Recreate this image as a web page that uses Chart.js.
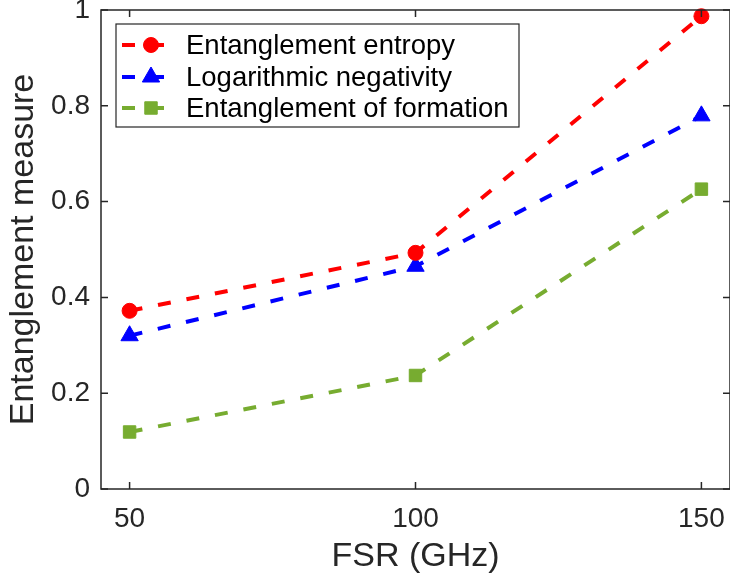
<!DOCTYPE html>
<html>
<head>
<meta charset="utf-8">
<script src="https://cdn.jsdelivr.net/npm/chart.js@4.4.0/dist/chart.umd.min.js"></script>
<style>
  html, body { margin: 0; padding: 0; background: #fff; overflow: hidden; }
  #wrap { width: 730px; height: 580px; position: relative; }
</style>
</head>
<body>
<div id="wrap"><canvas id="myChart"></canvas></div>
<script>
const ctx = document.getElementById('myChart').getContext('2d');

// values
const fsr = [50, 100, 150];
const entropy = [0.372, 0.493, 0.987];
const logNeg = [0.320, 0.465, 0.779];
const formation = [0.119, 0.237, 0.626];
const xTicks = [50, 100, 150];
const yTicks = [0, 0.2, 0.4, 0.6, 0.8, 1];
const seriesNames = ['Entanglement entropy', 'Logarithmic negativity', 'Entanglement of formation'];

const FONT = '"Liberation Sans", Arial, Helvetica, sans-serif';
const AXIS = '#262626';
const DASH = [13, 16];

function series(label, values, color, style, radius) {
  return {
    label: label,
    data: fsr.map((x, i) => ({ x: x, y: values[i] })),
    borderColor: color,
    backgroundColor: color,
    borderWidth: 4,
    borderDash: DASH,
    pointStyle: style,
    pointRadius: radius,
    pointHoverRadius: radius,
    pointBackgroundColor: color,
    pointBorderColor: color,
    pointBorderWidth: 1,
    tension: 0,
    clip: false,
  };
}

// inward ticks on all four sides plus the box (right side falls just off the page)
const framePlugin = {
  id: 'frame',
  afterDatasetsDraw(chart) {
    const c = chart.ctx;
    const a = chart.chartArea;
    const xs = chart.scales.x, ys = chart.scales.y;
    c.save();
    c.strokeStyle = AXIS;
    c.lineWidth = 1.5;
    c.strokeRect(a.left, a.top, a.right - a.left, a.bottom - a.top);
    c.beginPath();
    xTicks.forEach(v => {
      const px = xs.getPixelForValue(v);
      c.moveTo(px, a.bottom); c.lineTo(px, a.bottom - 7);
      c.moveTo(px, a.top); c.lineTo(px, a.top + 7);
    });
    yTicks.forEach(v => {
      const py = ys.getPixelForValue(v);
      c.moveTo(a.left, py); c.lineTo(a.left + 7, py);
      c.moveTo(a.right, py); c.lineTo(a.right - 7, py);
    });
    c.stroke();
    c.restore();
  },
  afterDraw(chart) {
    // matlab style legend in the upper left corner
    const c = chart.ctx;
    c.save();
    c.fillStyle = '#fff';
    c.fillRect(116, 24, 403, 103);
    c.strokeStyle = AXIS;
    c.lineWidth = 1.2;
    c.strokeRect(116, 24, 403, 103);
    const rows = [45, 77, 108];
    chart.data.datasets.forEach((ds, i) => {
      const y = rows[i];
      c.strokeStyle = ds.borderColor;
      c.lineWidth = ds.borderWidth;
      c.setLineDash(ds.borderDash);
      c.beginPath();
      c.moveTo(122, y); c.lineTo(167, y);
      c.stroke();
      c.setLineDash([]);
      c.fillStyle = ds.borderColor;
      c.lineWidth = 1;
      Chart.helpers.drawPoint(c, { pointStyle: ds.pointStyle, rotation: 0, radius: ds.pointRadius, borderWidth: 1 }, 151, y);
      c.fillStyle = '#000';
      c.font = '27.5px ' + FONT;
      c.textBaseline = 'middle';
      c.textAlign = 'left';
      c.fillText(ds.label, 186, y + 1);
    });
    c.restore();
  }
};

const myChart = new Chart(ctx, {
  type: 'line',
  data: {
    datasets: [
      series(seriesNames[0], entropy, '#FF0000', 'circle', 7.5),
      series(seriesNames[1], logNeg, '#0000FF', 'triangle', 10),
      series(seriesNames[2], formation, '#77AC30', 'rect', 8.8),
    ],
  },
  options: {
    responsive: true,
    maintainAspectRatio: false,
    animation: false,
    events: [],
    layout: { autoPadding: false, padding: { top: 10, right: -1.6, left: 0, bottom: 0 } },
    plugins: {
      legend: { display: false },
      tooltip: { enabled: false },
    },
    scales: {
      x: {
        type: 'linear',
        min: 45,
        max: 155,
        afterBuildTicks: s => { s.ticks = xTicks.map(v => ({ value: v })); },
        afterFit: s => { s.height = 91; s.paddingLeft = 0; s.paddingRight = 0; },
        grid: { display: false, drawTicks: false },
        border: { display: false },
        ticks: {
          padding: 13,
          color: AXIS,
          font: { family: FONT, size: 28 },
          maxRotation: 0,
        },
        title: {
          display: true,
          text: 'FSR (GHz)',
          color: AXIS,
          font: { family: FONT, size: 34 },
          padding: { top: 0, bottom: 3 },
        },
      },
      y: {
        min: 0,
        max: 1,
        afterBuildTicks: s => { s.ticks = yTicks.map(v => ({ value: v })); },
        afterFit: s => { s.width = 101; s.paddingTop = 0; s.paddingBottom = 0; },
        grid: { display: false, drawTicks: false },
        border: { display: false },
        ticks: {
          padding: 11,
          color: AXIS,
          font: { family: FONT, size: 28 },
          callback: v => String(Math.round(v * 10) / 10),
        },
        title: {
          display: true,
          text: 'Entanglement measure',
          color: AXIS,
          font: { family: FONT, size: 34 },
          padding: { top: 3, bottom: 0 },
        },
      },
    },
  },
  plugins: [framePlugin],
});
</script>
</body>
</html>
